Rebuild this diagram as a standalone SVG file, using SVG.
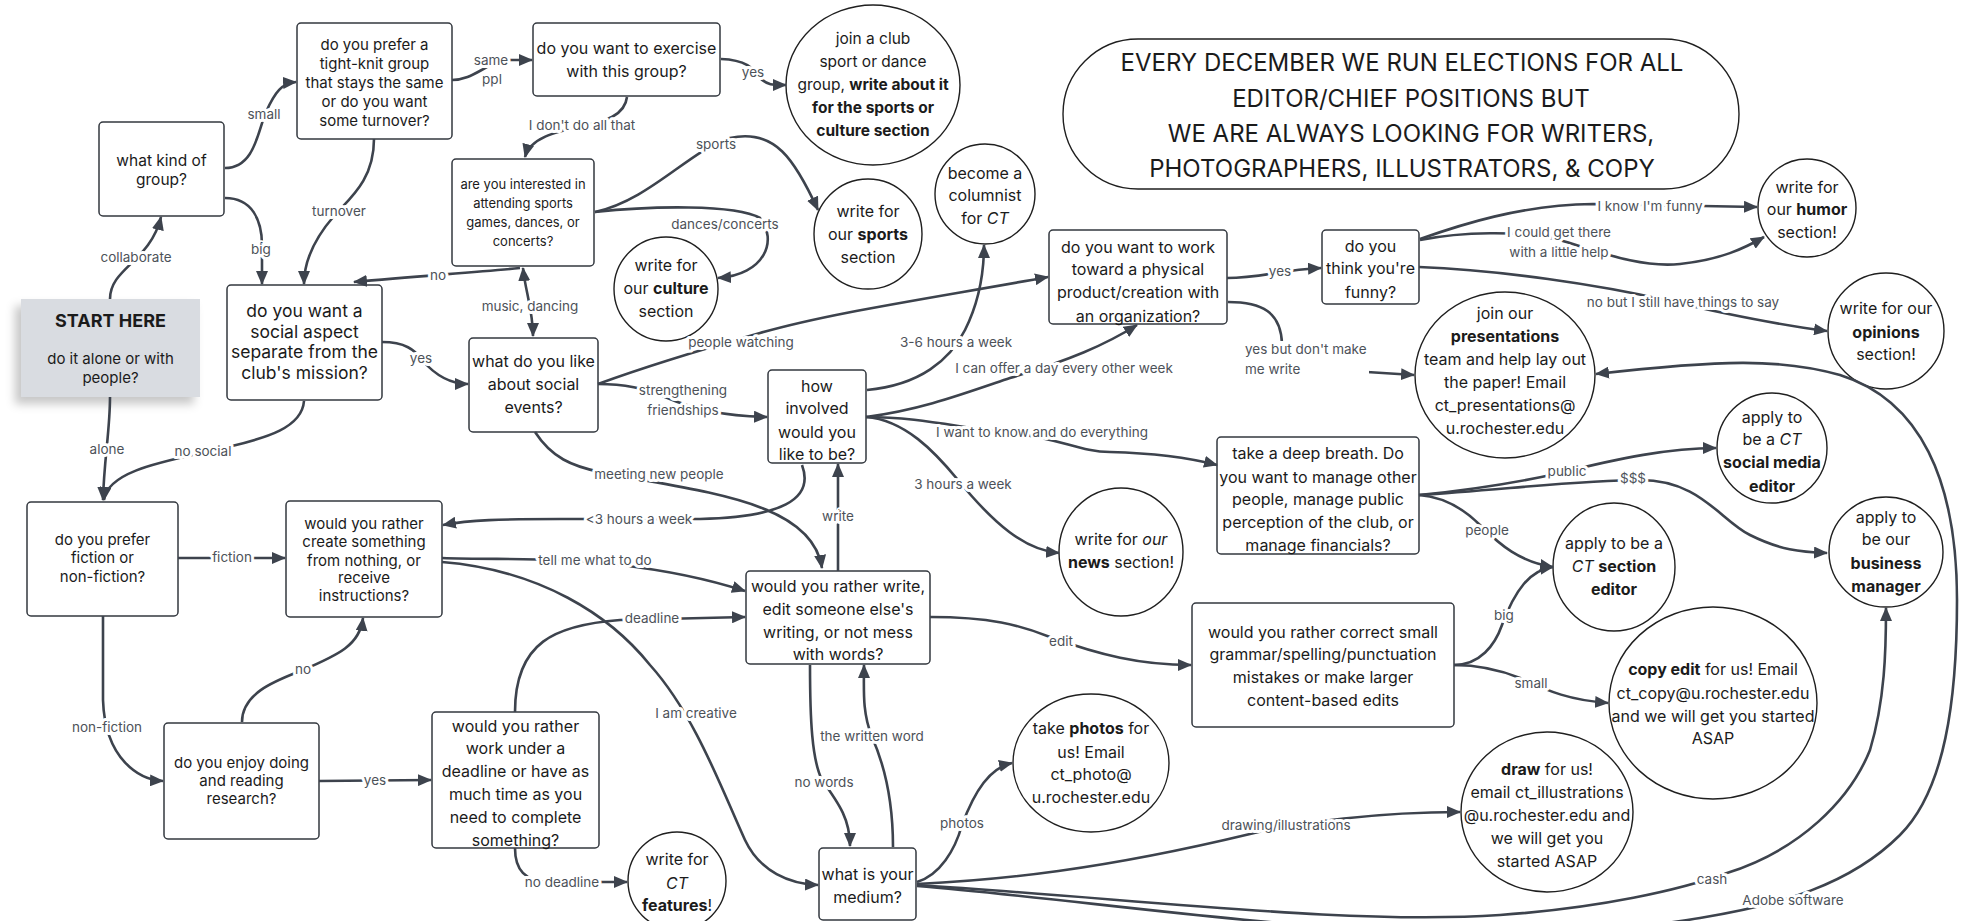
<svg xmlns="http://www.w3.org/2000/svg" width="1973" height="921" viewBox="0 0 1973 921">
<style>
.n{fill:#fff;stroke:#33383f;stroke-width:1.5}
.c{fill:#fff;stroke:#1f1f1f;stroke-width:1.4}
.t{font-family:Inter,"Liberation Sans",sans-serif;font-size:16px;fill:#1b1b1b;text-anchor:middle}
.b{font-weight:700}
.i{font-style:italic}
.e{fill:none;stroke:#3d434d;stroke-width:2.6;marker-end:url(#ah)}
.l{font-family:Inter,"Liberation Sans",sans-serif;font-size:13.5px;fill:#4d5259;text-anchor:middle;stroke:#fff;stroke-width:6;stroke-linejoin:round;paint-order:stroke}
</style>
<defs>
<marker id="ah" viewBox="0 0 14 12" refX="13" refY="6" markerWidth="14" markerHeight="12" markerUnits="userSpaceOnUse" orient="auto-start-reverse"><path d="M0,0 L14,6 L0,12 z" fill="#3d434d"/></marker>
<filter id="sh" x="-20%" y="-20%" width="140%" height="150%"><feDropShadow dx="-6" dy="7" stdDeviation="5" flood-color="#000" flood-opacity="0.22"/></filter>
</defs>
<rect width="1973" height="921" fill="#fff"/>

<g id="n-start"><rect x="21" y="299" width="179" height="98" fill="#d9dce1" filter="url(#sh)"/><text class="t" style="font-size:18px"><tspan x="110.5" y="327" class="b">START HERE</tspan></text><text class="t" style="font-size:15px"><tspan x="110.5" y="364">do it alone or with</tspan><tspan x="110.5" y="383">people?</tspan></text></g>

<g id="n-kind"><rect class="n" x="99" y="122" width="125" height="94" rx="4"/><text class="t" style="font-size:15.5px"><tspan x="161.5" y="166">what kind of</tspan><tspan x="161.5" y="185">group?</tspan></text></g>

<g id="n-tight"><rect class="n" x="297" y="23" width="155" height="116" rx="4"/><text class="t" style="font-size:15px"><tspan x="374.5" y="50">do you prefer a</tspan><tspan x="374.5" y="69">tight-knit group</tspan><tspan x="374.5" y="88">that stays the same</tspan><tspan x="374.5" y="107">or do you want</tspan><tspan x="374.5" y="126">some turnover?</tspan></text></g>

<g id="n-exercise"><rect class="n" x="533" y="23" width="187" height="73" rx="4"/><text class="t"><tspan x="626.5" y="54">do you want to exercise</tspan><tspan x="626.5" y="77">with this group?</tspan></text></g>

<g id="n-club"><ellipse class="c" cx="873" cy="85" rx="87" ry="80"/><text class="t" style="font-size:15.5px"><tspan x="873" y="44">join a club</tspan><tspan x="873" y="67">sport or dance</tspan><tspan x="873" y="90">group, <tspan class="b">write about it</tspan></tspan><tspan x="873" y="113" class="b">for the  sports or</tspan><tspan x="873" y="136" class="b">culture section</tspan></text></g>

<g id="n-interested"><rect class="n" x="452" y="159" width="142" height="107" rx="4"/><text class="t" style="font-size:13px"><tspan x="523" y="189">are you interested in</tspan><tspan x="523" y="208">attending sports</tspan><tspan x="523" y="227">games, dances, or</tspan><tspan x="523" y="246">concerts?</tspan></text></g>

<g id="n-social"><rect class="n" x="227" y="285" width="155" height="115" rx="4"/><text class="t" style="font-size:17.5px"><tspan x="304.5" y="317">do you want a</tspan><tspan x="304.5" y="338">social aspect</tspan><tspan x="304.5" y="358">separate from the</tspan><tspan x="304.5" y="379">club's mission?</tspan></text></g>

<g id="n-culture"><circle class="c" cx="666" cy="289" r="52"/><text class="t"><tspan x="666" y="271">write for</tspan><tspan x="666" y="294">our <tspan class="b">culture</tspan></tspan><tspan x="666" y="317">section</tspan></text></g>

<g id="n-sports"><ellipse class="c" cx="868" cy="234" rx="54" ry="55"/><text class="t"><tspan x="868" y="217">write for</tspan><tspan x="868" y="240">our <tspan class="b">sports</tspan></tspan><tspan x="868" y="263">section</tspan></text></g>

<g id="n-columnist"><circle class="c" cx="985" cy="194" r="50"/><text class="t"><tspan x="985" y="179">become a</tspan><tspan x="985" y="201">columnist</tspan><tspan x="985" y="224">for <tspan class="i">CT</tspan></tspan></text></g>

<g id="n-notice"><rect x="1063" y="39" width="676" height="150" rx="75" fill="#fff" stroke="#1f1f1f" stroke-width="1.4"/><text class="t" style="font-size:24px"><tspan x="1402" y="71">EVERY DECEMBER WE RUN ELECTIONS FOR ALL</tspan><tspan x="1411" y="107">EDITOR/CHIEF POSITIONS BUT</tspan><tspan x="1411" y="142">WE ARE ALWAYS LOOKING FOR WRITERS,</tspan><tspan x="1402" y="177">PHOTOGRAPHERS, ILLUSTRATORS, &amp; COPY</tspan></text></g>

<g id="n-work"><rect class="n" x="1049" y="230" width="178" height="94" rx="4"/><text class="t"><tspan x="1138" y="253">do you want to work</tspan><tspan x="1138" y="275">toward a physical</tspan><tspan x="1138" y="298">product/creation with</tspan><tspan x="1138" y="322">an organization?</tspan></text></g>

<g id="n-funny"><rect class="n" x="1322" y="230" width="97" height="74" rx="4"/><text class="t"><tspan x="1370.5" y="252">do you</tspan><tspan x="1370.5" y="274">think you're</tspan><tspan x="1370.5" y="298">funny?</tspan></text></g>

<g id="n-humor"><circle class="c" cx="1807" cy="208" r="49"/><text class="t"><tspan x="1807" y="193">write for</tspan><tspan x="1807" y="215">our <tspan class="b">humor</tspan></tspan><tspan x="1807" y="238">section!</tspan></text></g>

<g id="n-opinions"><circle class="c" cx="1886" cy="331" r="58"/><text class="t"><tspan x="1886" y="314">write for our</tspan><tspan x="1886" y="338" class="b">opinions</tspan><tspan x="1886" y="360">section!</tspan></text></g>

<g id="n-presentations"><ellipse class="c" cx="1505" cy="375" rx="90" ry="83"/><text class="t"><tspan x="1505" y="319">join our</tspan><tspan x="1505" y="342" class="b">presentations</tspan><tspan x="1505" y="365">team and help lay out</tspan><tspan x="1505" y="388">the paper! Email</tspan><tspan x="1505" y="411">ct_presentations@</tspan><tspan x="1505" y="434">u.rochester.edu</tspan></text></g>

<g id="n-socialmedia"><circle class="c" cx="1772" cy="448" r="55"/><text class="t"><tspan x="1772" y="423">apply to</tspan><tspan x="1772" y="445">be a <tspan class="i">CT</tspan></tspan><tspan x="1772" y="468" class="b">social media</tspan><tspan x="1772" y="492" class="b">editor</tspan></text></g>

<g id="n-business"><ellipse class="c" cx="1886" cy="552" rx="57" ry="55"/><text class="t"><tspan x="1886" y="523">apply to</tspan><tspan x="1886" y="545">be our</tspan><tspan x="1886" y="569" class="b">business</tspan><tspan x="1886" y="592" class="b">manager</tspan></text></g>

<g id="n-sectioneditor"><ellipse class="c" cx="1614" cy="567" rx="61" ry="64"/><text class="t"><tspan x="1614" y="549">apply to be a</tspan><tspan x="1614" y="572"><tspan class="i">CT</tspan> <tspan class="b">section</tspan></tspan><tspan x="1614" y="595" class="b">editor</tspan></text></g>

<g id="n-copy"><ellipse class="c" cx="1713" cy="703" rx="104" ry="96"/><text class="t"><tspan x="1713" y="675"><tspan class="b">copy edit</tspan> for us! Email</tspan><tspan x="1713" y="699">ct_copy@u.rochester.edu</tspan><tspan x="1713" y="722">and we will get you started</tspan><tspan x="1713" y="744">ASAP</tspan></text></g>

<g id="n-draw"><ellipse class="c" cx="1547" cy="812" rx="86" ry="80"/><text class="t"><tspan x="1547" y="775"><tspan class="b">draw</tspan> for us!</tspan><tspan x="1547" y="798">email ct_illustrations</tspan><tspan x="1547" y="821">@u.rochester.edu and</tspan><tspan x="1547" y="844">we will get you</tspan><tspan x="1547" y="867">started ASAP</tspan></text></g>

<g id="n-like"><rect class="n" x="469" y="338" width="129" height="94" rx="4"/><text class="t"><tspan x="533.5" y="367">what do you like</tspan><tspan x="533.5" y="390">about social</tspan><tspan x="533.5" y="413">events?</tspan></text></g>

<g id="n-fiction"><rect class="n" x="27" y="502" width="151" height="114" rx="4"/><text class="t" style="font-size:15px"><tspan x="102.5" y="545">do you prefer</tspan><tspan x="102.5" y="563">fiction or</tspan><tspan x="102.5" y="582">non-fiction?</tspan></text></g>

<g id="n-create"><rect class="n" x="286" y="501" width="156" height="116" rx="4"/><text class="t" style="font-size:15px"><tspan x="364" y="529">would you rather</tspan><tspan x="364" y="547">create something</tspan><tspan x="364" y="566">from nothing, or</tspan><tspan x="364" y="583">receive</tspan><tspan x="364" y="601">instructions?</tspan></text></g>

<g id="n-involved"><rect class="n" x="768" y="370" width="98" height="93" rx="4"/><text class="t"><tspan x="817" y="392">how</tspan><tspan x="817" y="414">involved</tspan><tspan x="817" y="438">would you</tspan><tspan x="817" y="460">like to be?</tspan></text></g>

<g id="n-write"><rect class="n" x="746" y="571" width="184" height="93" rx="4"/><text class="t"><tspan x="838" y="592">would you rather write,</tspan><tspan x="838" y="615">edit someone else's</tspan><tspan x="838" y="638">writing, or not mess</tspan><tspan x="838" y="660">with words?</tspan></text></g>

<g id="n-breath"><rect class="n" x="1217" y="437" width="202" height="117" rx="4"/><text class="t"><tspan x="1318" y="459">take a deep breath. Do</tspan><tspan x="1318" y="483">you want to manage other</tspan><tspan x="1318" y="505">people, manage public</tspan><tspan x="1318" y="528">perception of the club, or</tspan><tspan x="1318" y="551">manage financials?</tspan></text></g>

<g id="n-news"><ellipse class="c" cx="1121" cy="552" rx="62" ry="64"/><text class="t"><tspan x="1121" y="545">write for <tspan class="i">our</tspan></tspan><tspan x="1121" y="568"><tspan class="b">news</tspan> section!</tspan></text></g>

<g id="n-correct"><rect class="n" x="1192" y="603" width="262" height="124" rx="4"/><text class="t"><tspan x="1323" y="638">would you rather correct small</tspan><tspan x="1323" y="660">grammar/spelling/punctuation</tspan><tspan x="1323" y="683">mistakes or make larger</tspan><tspan x="1323" y="706">content-based edits</tspan></text></g>

<g id="n-research"><rect class="n" x="164" y="723" width="155" height="116" rx="4"/><text class="t" style="font-size:15px"><tspan x="241.5" y="768">do you enjoy doing</tspan><tspan x="241.5" y="786">and reading</tspan><tspan x="241.5" y="804">research?</tspan></text></g>

<g id="n-deadline"><rect class="n" x="432" y="712" width="167" height="136" rx="4"/><text class="t"><tspan x="515.5" y="732">would you rather</tspan><tspan x="515.5" y="754">work under a</tspan><tspan x="515.5" y="777">deadline or have as</tspan><tspan x="515.5" y="800">much time as you</tspan><tspan x="515.5" y="823">need to complete</tspan><tspan x="515.5" y="846">something?</tspan></text></g>

<g id="n-features"><circle class="c" cx="677" cy="881" r="49"/><text class="t"><tspan x="677" y="865">write for</tspan><tspan x="677" y="889" class="i">CT</tspan><tspan x="677" y="911"><tspan class="b">features</tspan>!</tspan></text></g>

<g id="n-medium"><rect class="n" x="819" y="848" width="97" height="72" rx="4"/><text class="t"><tspan x="867.5" y="880">what is your</tspan><tspan x="867.5" y="903">medium?</tspan></text></g>

<g id="n-photos"><ellipse class="c" cx="1091" cy="763" rx="78" ry="69"/><text class="t"><tspan x="1091" y="734">take <tspan class="b">photos</tspan> for</tspan><tspan x="1091" y="758">us! Email</tspan><tspan x="1091" y="780">ct_photo@</tspan><tspan x="1091" y="803">u.rochester.edu</tspan></text></g>

<g id="connectors">
<path class="e" d="M110,299 C110,268 150,262 161,217"/>
<path class="e" d="M225,168 C255,168 258,130 266,112 C275,92 282,83 296,82"/>
<path class="e" d="M225,198 C252,198 262,220 262,245 L262,284"/>
<path class="e" d="M374,139 C374,180 350,198 334,216 C315,238 304,260 304,284"/>
<path class="e" d="M452,80 C475,80 485,62 510,60 L532,60"/>
<path class="e" d="M721,59 C750,60 755,72 760,78 C768,86 775,85 786,85"/>
<path class="e" d="M627,97 C625,115 605,122 582,126 C555,132 530,138 525,157"/>
<path class="e" d="M520,268 C480,272 420,276 354,282"/>
<path class="e" style="marker-start:url(#ah)" d="M523,268 C525,290 533,310 533,336"/>
<path class="e" d="M595,212 C650,200 690,150 730,138 C775,128 795,160 818,210"/>
<path class="e" d="M595,212 C650,206 735,204 760,218 C778,240 765,275 718,278"/>
<path class="e" d="M382,342 C405,342 415,350 422,360 C435,375 450,384 468,384"/>
<path class="e" d="M304,401 C302,428 265,438 232,446 C175,460 108,468 104,500"/>
<path class="e" d="M110,397 C110,430 104,460 103,500"/>
<path class="e" d="M178,558 L285,558"/>
<path class="e" d="M103,616 L103,700 C105,760 140,780 163,781"/>
<path class="e" d="M242,722 C242,692 278,680 303,670 C338,655 360,645 363,618"/>
<path class="e" d="M319,781 L431,780"/>
<path class="e" d="M515,712 C515,642 555,625 620,620 L745,617"/>
<path class="e" d="M515,848 C515,870 525,881 548,882 L627,882"/>
<path class="e" d="M442,558 C500,560 560,557 620,565 C680,572 720,583 745,591"/>
<path class="e" d="M442,562 C540,570 610,615 650,665 C695,715 722,790 745,840 C760,872 790,884 818,885"/>
<path class="e" d="M598,384 C625,384 645,388 665,397 C695,410 725,416 767,417"/>
<path class="e" d="M598,384 C650,365 700,350 760,333 C830,313 920,300 1048,277"/>
<path class="e" d="M535,432 C552,458 572,466 600,472 C700,492 812,500 822,568"/>
<path class="e" d="M802,465 C815,500 780,517 700,519 L560,519 C500,519 470,520 443,525"/>
<path class="e" d="M838,571 L838,464"/>
<path class="e" d="M867,390 C920,385 950,360 965,330 C980,300 984,270 984,245"/>
<path class="e" d="M866,417 C920,410 960,395 1010,378 C1070,360 1105,345 1137,325"/>
<path class="e" d="M866,417 C920,417 960,428 1010,433 C1060,438 1080,452 1110,452 C1150,453 1190,458 1217,465"/>
<path class="e" d="M866,417 C905,420 935,452 958,480 C995,525 1025,550 1059,553"/>
<path class="e" d="M1227,278 C1260,278 1280,270 1321,268"/>
<path class="e" d="M1228,302 C1262,302 1281,312 1282,344 L1300,364 C1320,372 1340,372 1367,372 L1414,375"/>
<path class="e" d="M1420,239 C1460,225 1520,205 1593,204 L1757,207"/>
<path class="e" d="M1420,240 C1460,232 1520,230 1560,240 C1600,252 1640,268 1680,264 C1720,260 1745,248 1764,237"/>
<path class="e" d="M1419,267 C1500,270 1600,285 1665,300 C1725,314 1780,325 1827,331"/>
<path class="e" d="M1419,495 C1470,490 1520,482 1560,473 C1620,458 1670,448 1716,448"/>
<path class="e" d="M1419,495 C1500,490 1580,480 1640,480 C1700,480 1720,520 1750,535 C1780,550 1800,552 1827,553"/>
<path class="e" d="M1419,495 C1445,497 1465,510 1480,525 C1500,545 1520,562 1553,567"/>
<path class="e" d="M930,617 C990,617 1020,625 1050,637 C1100,655 1140,665 1191,665"/>
<path class="e" d="M1454,665 C1480,665 1495,645 1502,625 C1515,590 1530,570 1553,567"/>
<path class="e" d="M1454,665 C1480,665 1500,670 1520,678 C1550,692 1570,700 1608,703"/>
<path class="e" d="M810,665 C810,720 812,760 822,780 C840,805 850,820 850,846"/>
<path class="e" d="M893,847 C893,790 880,755 872,737 C862,712 864,690 864,665"/>
<path class="e" d="M917,882 C940,875 955,850 962,825 C975,790 990,768 1012,763"/>
<path class="e" d="M917,884 C1000,880 1100,870 1250,834 C1300,822 1380,812 1460,812"/>
<path class="e" d="M917,885 C1150,900 1350,925 1500,915 C1600,908 1680,890 1727,873 C1800,850 1850,800 1870,750 C1885,700 1886,650 1886,608"/>
<path class="e" d="M917,886 C1150,905 1450,960 1700,918 C1780,905 1850,885 1900,835 C1945,790 1957,700 1957,600 C1957,480 1920,400 1840,375 C1780,358 1720,360 1596,374"/>

<text class="l" x="136" y="262">collaborate</text>
<text class="l" x="264" y="119">small</text>
<text class="l" x="261" y="254">big</text>
<text class="l" x="339" y="216">turnover</text>
<text class="l"><tspan x="491" y="65">same</tspan><tspan x="492" y="84">ppl</tspan></text>
<text class="l" x="753" y="77">yes</text>
<text class="l" x="582" y="130">I don't do all that</text>
<text class="l" x="438" y="280">no</text>
<text class="l" x="530" y="311">music, dancing</text>
<text class="l" x="716" y="149">sports</text>
<text class="l" x="725" y="229">dances/concerts</text>
<text class="l" x="421" y="363">yes</text>
<text class="l" x="203" y="456">no social</text>
<text class="l" x="107" y="454">alone</text>
<text class="l" x="232" y="562">fiction</text>
<text class="l" x="107" y="732">non-fiction</text>
<text class="l" x="303" y="674">no</text>
<text class="l" x="375" y="785">yes</text>
<text class="l" x="652" y="623">deadline</text>
<text class="l" x="562" y="887">no deadline</text>
<text class="l" x="595" y="565">tell me what to do</text>
<text class="l" x="696" y="718">I am creative</text>
<text class="l"><tspan x="683" y="395">strengthening</tspan><tspan x="683" y="415">friendships</tspan></text>
<text class="l" x="741" y="347">people watching</text>
<text class="l" x="659" y="479">meeting new people</text>
<text class="l" x="639" y="524">&lt;3 hours a week</text>
<text class="l" x="838" y="521">write</text>
<text class="l" x="956" y="347">3-6 hours a week</text>
<text class="l" x="1064" y="373">I can offer a day every other week</text>
<text class="l" x="1042" y="437">I want to know and do everything</text>
<text class="l" x="963" y="489">3 hours a week</text>
<text class="l" x="1280" y="276">yes</text>
<rect x="1242" y="341" width="127" height="38" fill="#fff"/>
<text class="l" style="text-anchor:start"><tspan x="1245" y="354">yes but don't make</tspan><tspan x="1245" y="374">me write</tspan></text>
<text class="l" x="1650" y="211">I know I'm funny</text>
<text class="l"><tspan x="1559" y="237">I could get there</tspan><tspan x="1559" y="257">with a little help</tspan></text>
<text class="l" x="1683" y="307">no but I still have things to say</text>
<text class="l" x="1567" y="476">public</text>
<text class="l" x="1633" y="483">$$$</text>
<text class="l" x="1487" y="535">people</text>
<text class="l" x="1061" y="646">edit</text>
<text class="l" x="1504" y="620">big</text>
<text class="l" x="1531" y="688">small</text>
<text class="l" x="824" y="787">no words</text>
<text class="l" x="872" y="741">the written word</text>
<text class="l" x="962" y="828">photos</text>
<text class="l" x="1286" y="830">drawing/illustrations</text>
<text class="l" x="1712" y="884">cash</text>
<text class="l" x="1793" y="905">Adobe software</text>
</g>
</svg>
